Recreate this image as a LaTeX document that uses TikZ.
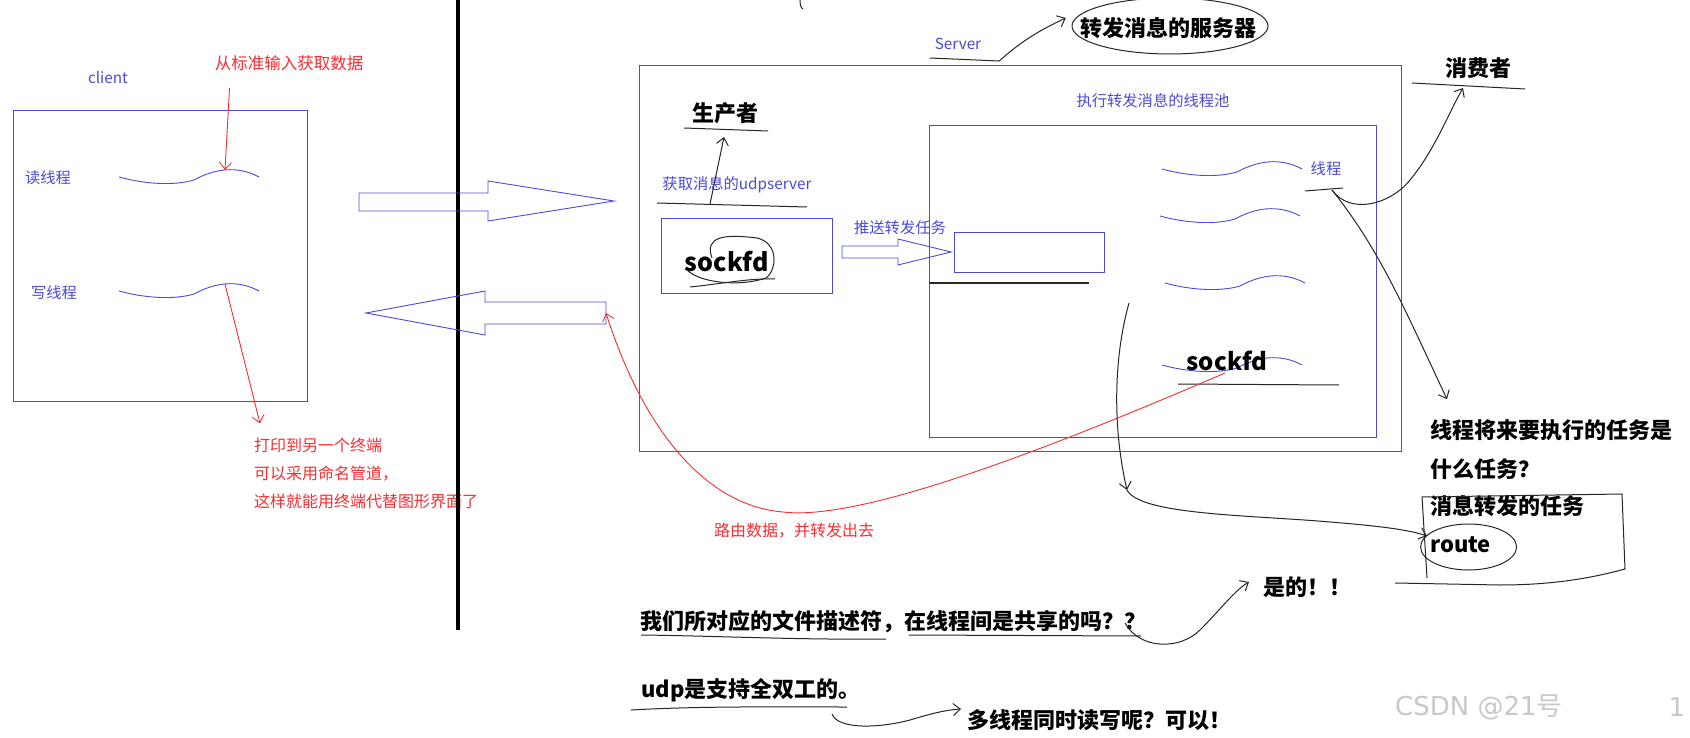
\documentclass[tikz,border=0pt]{standalone}
\usepackage{fontspec}
\setmainfont{Noto Sans CJK SC}
\newfontfamily\markfont{DejaVu Sans}
\usetikzlibrary{arrows.meta,calc}

\definecolor{penblue}{RGB}{75,75,215}
\definecolor{penred}{RGB}{250,45,50}
\definecolor{markgray}{RGB}{200,200,200}

\tikzset{
  bluebox/.style={draw=penblue, line width=0.9pt, inner sep=0pt},
  bluetext/.style={text=penblue, font=\fontsize{15.3}{18}\selectfont, inner sep=0pt},
  redtext/.style={text=penred, font=\fontsize{16}{28}\selectfont, inner sep=0pt, align=left},
  boldtext/.style={font=\fontsize{22}{26}\selectfont\bfseries, inner sep=0pt},
  pen/.style={draw=black!85, line width=1pt},
  redpen/.style={draw=penred, line width=0.9pt},
  threadwave/.pic={\draw[penblue, line width=0.9pt] (0,0) .. controls (25,7) and (55,9) .. (75,3) .. controls (95,-8) and (118,-12) .. (140,0);}
}

\begin{document}
\begin{tikzpicture}[x=1pt,y=-1pt,>={Straight Barb[length=7pt,width=12pt]}]
\fill[white] (0,0) rectangle (1690,738);
\useasboundingbox (0,0) rectangle (1690,738);

% client
\node[bluebox, anchor=north west, minimum width=294pt, minimum height=291pt] (clientbox) at (13,110) {};
\node[bluetext] (client) at (108,78) {client};
\node[bluetext] (read) at (48,178) {读线程};
\node[bluetext] (write) at (54,293) {写线程};
\pic at (119,177) {threadwave};
\pic at (119,291) {threadwave};
\coordinate (readpeak) at (225,170);
\coordinate (writepeak) at (225,284);
\node[redtext] (stdin) at (289,63) {\fontsize{16.5}{20}\selectfont 从标准输入获取数据};
\node[redtext, anchor=west] (term) at (254,473) {打印到另一个终端\\可以采用命名管道，\\这样就能用终端代替图形界面了};
\draw[redpen,->] ($(stdin.south west)+(15,17)$) -- (readpeak);
\draw[redpen,->] (writepeak) -- ($(term.north west)+(6,-14)$);

% divider
\draw[line width=4pt] (458,0) -- (458,630);

% block arrows
\draw[bluebox] (359,193) -- (488,193) -- (488,181) -- (614,201) -- (488,221) -- (488,211) -- (359,211) -- cycle;
\draw[bluebox] (606,302) -- (485,302) -- (485,291) -- (366,313) -- (485,335) -- (485,324) -- (606,324) -- cycle;
\coordinate (backtail) at (606,313);

% server
\node[bluebox, anchor=north west, minimum width=762pt, minimum height=386pt] (serverbox) at (639,65) {};
\node[bluetext] (server) at (958,44) {Server};
\node[boldtext] (srv) at (1168,28) {转发消息的服务器};
\draw[pen] ($(srv.center)+(2,-2)$) ellipse [x radius=98pt, y radius=28pt];
\draw[pen,->] ($(server.south west)+(-5,8)$) -- ($(server.south east)+(18,11)$) .. controls (1020,42) and (1040,30) .. ($(srv.west)+(-14,-10)$);
\draw[pen] (800,0) .. controls (800,5) and (801,8) .. (803,9);

\node[boldtext] (producer) at (725,113) {生产者};
\draw[pen] (684,128) -- (768,131);
\node[bluetext] (udpsrv) at (737,185) {获取消息的udpserver};
\draw[pen] (657,203) -- (807,207);
\draw[pen,->] (710,204) -- (724,137);

\node[bluebox, anchor=north west, minimum width=171pt, minimum height=75pt] (sockbox) at (661,218) {};
\node[boldtext, font=\fontsize{25}{28}\selectfont\bfseries] (sock) at (727,262) {sockfd};
\draw[pen] (712,258) .. controls (704,236) and (725,234) .. (757,238) .. controls (779,243) and (777,270) .. (766,278) .. controls (740,287) and (700,283) .. (687,270);
\draw[pen] (690,287) .. controls (720,284) and (750,278) .. (775,279);

\node[bluetext] (push) at (900,228) {推送转发任务};
\draw[bluebox] (842,246) -- (898,246) -- (898,239) -- (951,252) -- (898,265) -- (898,258) -- (842,258) -- cycle;
\node[bluebox, anchor=north west, minimum width=150pt, minimum height=40pt] (queue) at (954,232) {};
\draw[pen] (930,283) -- (1089,283);

% thread pool
\node[bluetext] (pool) at (1153,101) {执行转发消息的线程池};
\node[bluebox, anchor=north west, minimum width=447pt, minimum height=312pt] (poolbox) at (929,125) {};
\pic at (1162,169) {threadwave};
\pic at (1160,216) {threadwave};
\pic at (1165,283) {threadwave};
\pic at (1162,365) {threadwave};
\node[bluetext] (thread) at (1326,169) {线程};
\draw[pen] (1305,191) -- (1343,188);
\node[boldtext, font=\fontsize{24}{28}\selectfont\bfseries] (sock2) at (1227,361) {sockfd};
\draw[pen] (1178,384) -- (1339,385);

\draw[redpen,->] (1225,373) .. controls (1000,470) and (850,520) .. (783,512) .. controls (700,505) and (640,420) .. (backtail);
\node[redtext] (route data) at (794,531) {路由数据，并转发出去};

% consumer
\node[boldtext] (consumer) at (1478,68) {消费者};
\draw[pen] (1412,83) -- (1525,89);
\coordinate (threadend) at (1332,190);
\draw[pen,->] (threadend) .. controls (1350,215) and (1390,205) .. (1410,180) .. controls (1435,150) and (1450,110) .. (1463,88);
\node[boldtext, anchor=west] (task1) at (1430,430) {线程将来要执行的任务是};
\node[boldtext, anchor=west] (task2) at (1430,469) {什么任务？};
\node[boldtext, anchor=west] (task3) at (1430,506) {消息转发的任务};
\node[boldtext, anchor=west] (route) at (1430,545) {route};
\draw[pen,->] (threadend) .. controls (1380,250) and (1405,310) .. ($(task1.north west)+(17,-20)$);
\draw[pen] ($(route.center)+(8,2)$) ellipse [x radius=48pt, y radius=23pt];
\draw[pen] (1427,578) -- (1422,497) -- (1622,494) -- (1625,569) .. controls (1585,580) and (1545,585) .. (1500,585) -- (1395,583);
\coordinate (pooldown) at (1127,490);
\draw[pen,->] (1129,303) .. controls (1113,360) and (1113,430) .. (pooldown);
\draw[pen,->] (pooldown) .. controls (1140,515) and (1250,515) .. (1330,522) .. controls (1380,526) and (1410,530) .. ($(route.west)+(-3,-9)$);

% questions
\node[boldtext, anchor=west] (share) at (640,622) {我们所对应的文件描述符，在线程间是共享的吗？？};
\draw[pen] (641,635) .. controls (720,636) and (800,640) .. (886,639);
\draw[pen] (909,635) -- (1141,636);
\node[boldtext, anchor=west] (yes) at (1263,587) {是的！！};
\draw[pen,->] (1125,623) .. controls (1140,650) and (1180,650) .. (1200,630) .. controls (1220,610) and (1235,590) .. ($(yes.west)+(-14,-5)$);
\node[boldtext, anchor=west] (udp) at (641,690) {udp是支持全双工的。};
\draw[pen] (631,710) .. controls (700,706) and (780,707) .. (847,707);
\node[boldtext, anchor=west] (multi) at (967,720) {多线程同时读写呢？可以！};
\draw[pen,->] (832,714) .. controls (838,730) and (880,728) .. (910,720) .. controls (930,714) and (945,710) .. ($(multi.west)+(-6,-11)$);

% watermark
\node[text=markgray, font=\fontsize{26}{30}\selectfont, inner sep=0pt, anchor=west] (mark) at (1395,707) {{\markfont CSDN @21}号};
\node[text=markgray, font=\fontsize{26}{30}\selectfont\markfont, inner sep=0pt] (markno) at (1677,707) {1};
\end{tikzpicture}
\end{document}
